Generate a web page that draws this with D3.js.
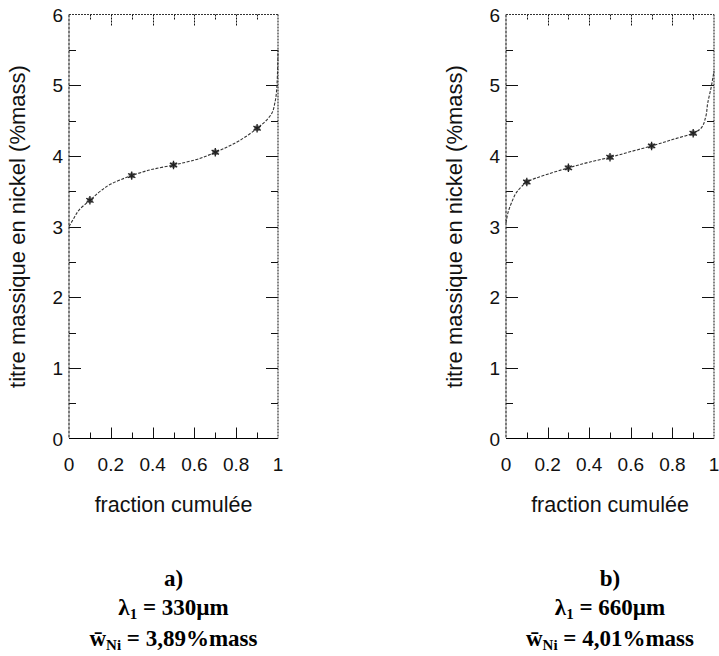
<!DOCTYPE html>
<html>
<head>
<meta charset="utf-8">
<script src="https://cdn.jsdelivr.net/npm/d3@7"></script>
<style>
  html, body { margin: 0; padding: 0; background: #fff; }
  svg { display: block; }
</style>
</head>
<body>
<svg id="chart" width="719" height="656"></svg>
<script>
// ---------- data ----------
const xTickValues = [0, 0.2, 0.4, 0.6, 0.8, 1];
const xTickLabels = ["0", "0.2", "0.4", "0.6", "0.8", "1"];
const xMinorTicks = [0.1, 0.3, 0.5, 0.7, 0.9];
const yTickValues = [0, 1, 2, 3, 4, 5, 6];
const yMinorTicks = [0.5, 1.5, 2.5, 3.5, 4.5, 5.5];

// panel a) lambda1 = 330 µm
const curveAFraction = [0, 0.02, 0.05, 0.1, 0.15, 0.2, 0.3, 0.4, 0.5, 0.6, 0.7, 0.8, 0.9, 0.95, 0.97, 0.985, 0.995, 1.0];
const curveAValue    = [3.0, 3.1, 3.24, 3.37, 3.5, 3.6, 3.72, 3.81, 3.87, 3.94, 4.05, 4.19, 4.39, 4.52, 4.6, 4.75, 5.0, 5.5];
const markerFraction = [0.1, 0.3, 0.5, 0.7, 0.9];
const markerAValue   = [3.37, 3.72, 3.87, 4.05, 4.39];

// panel b) lambda1 = 660 µm
const curveBFraction = [0, 0.01, 0.03, 0.05, 0.08, 0.1, 0.2, 0.3, 0.4, 0.5, 0.6, 0.7, 0.8, 0.9, 0.94, 0.96, 0.97, 0.985, 1.0];
const curveBValue    = [3.05, 3.2, 3.36, 3.48, 3.58, 3.63, 3.74, 3.83, 3.91, 3.98, 4.06, 4.14, 4.23, 4.32, 4.4, 4.55, 4.75, 4.95, 5.2];
const markerBValue   = [3.63, 3.83, 3.98, 4.14, 4.32];

const xTitle = "fraction cumulée";
const yTitle = "titre massique en nickel (%mass)";
const panelLetters = ["a)", "b)"];
const lambdaValues = ["330µm", "660µm"];
const meanValues = ["3,89%mass", "4,01%mass"];

// ---------- drawing ----------
const svg = d3.select("#chart");
const sansFont = "'Liberation Sans', Arial, Helvetica, sans-serif";
const serifFont = "'Liberation Serif', 'Times New Roman', serif";

const panels = [
  { left: 69, right: 278, fx: curveAFraction, fy: curveAValue, my: markerAValue, i: 0 },
  { left: 506, right: 714, fx: curveBFraction, fy: curveBValue, my: markerBValue, i: 1 }
];
const plotTop = 14.5, plotBottom = 438.5;

panels.forEach(p => {
  const g = svg.append("g");
  const x = d3.scaleLinear().domain([0, 1]).range([p.left, p.right]);
  const y = d3.scaleLinear().domain([0, 6]).range([plotBottom, plotTop]);

  // ticks (inward on all 4 sides)
  const tickG = g.append("g").attr("stroke", "#111").attr("stroke-width", 1);
  const xAll = xTickValues.map(v => ({ v, len: 11 })).concat(xMinorTicks.map(v => ({ v, len: 6 })));
  xAll.forEach(t => {
    if (t.v === 0 || t.v === 1) return;
    const px = Math.round(x(t.v)) + 0.5;
    tickG.append("line").attr("x1", px).attr("x2", px).attr("y1", plotBottom).attr("y2", plotBottom - t.len);
    tickG.append("line").attr("x1", px).attr("x2", px).attr("y1", plotTop).attr("y2", plotTop + t.len)
      .attr("stroke-dasharray", "2,1");
  });
  const yAll = yTickValues.map(v => ({ v, len: 12 })).concat(yMinorTicks.map(v => ({ v, len: 7 })));
  yAll.forEach(t => {
    if (t.v === 0 || t.v === 6) return;
    const py = Math.round(y(t.v)) + 0.5;
    tickG.append("line").attr("x1", p.left).attr("x2", p.left + t.len).attr("y1", py).attr("y2", py);
    tickG.append("line").attr("x1", p.right).attr("x2", p.right - t.len).attr("y1", py).attr("y2", py);
  });

  // frame
  g.append("line").attr("x1", p.left).attr("x2", p.right).attr("y1", plotBottom).attr("y2", plotBottom)
    .attr("stroke", "#000").attr("stroke-width", 1.2);
  g.append("line").attr("x1", p.left).attr("x2", p.left).attr("y1", plotTop).attr("y2", plotBottom)
    .attr("stroke", "#222").attr("stroke-width", 1.2).attr("stroke-dasharray", "3,1");
  g.append("line").attr("x1", p.left).attr("x2", p.right).attr("y1", plotTop).attr("y2", plotTop)
    .attr("stroke", "#333").attr("stroke-width", 1.2).attr("stroke-dasharray", "2,1");
  g.append("line").attr("x1", p.right).attr("x2", p.right).attr("y1", plotTop).attr("y2", plotBottom)
    .attr("stroke", "#333").attr("stroke-width", 1.2).attr("stroke-dasharray", "2,1");

  // tick labels
  g.append("g").selectAll("text").data(xTickValues).join("text")
    .attr("x", d => x(d)).attr("y", plotBottom + 32)
    .attr("text-anchor", "middle")
    .attr("font-family", sansFont).attr("font-size", 19).attr("fill", "#111")
    .text((d, i) => xTickLabels[i]);
  g.append("g").selectAll("text").data(yTickValues).join("text")
    .attr("x", p.left - 6).attr("y", d => y(d) + 7)
    .attr("text-anchor", "end")
    .attr("font-family", sansFont).attr("font-size", 19).attr("fill", "#111")
    .text(d => d);

  // axis titles
  g.append("text")
    .attr("x", (p.left + p.right) / 2).attr("y", 512)
    .attr("text-anchor", "middle")
    .attr("font-family", sansFont).attr("font-size", 21.5).attr("fill", "#111")
    .text(xTitle);
  g.append("text")
    .attr("transform", `translate(${p.left - 44},${(plotTop + plotBottom) / 2}) rotate(-90)`)
    .attr("text-anchor", "middle")
    .attr("font-family", sansFont).attr("font-size", 22).attr("fill", "#111")
    .text(yTitle);

  // curve
  const line = d3.line().x(d => x(d[0])).y(d => y(d[1])).curve(d3.curveMonotoneY);
  g.append("path")
    .datum(p.fx.map((v, i) => [v, p.fy[i]]))
    .attr("d", line)
    .attr("fill", "none").attr("stroke", "#333").attr("stroke-width", 1.1)
    .attr("stroke-dasharray", "3,1.5");

  // markers
  const mk = g.append("g").selectAll("g").data(markerFraction).join("g")
    .attr("transform", (d, i) => `translate(${x(d)},${y(p.my[i])})`);
  mk.append("circle").attr("r", 3).attr("fill", "#777");
  mk.append("path").attr("d", d3.symbol(d3.symbolAsterisk, 50)())
    .attr("fill", "none").attr("stroke", "#222").attr("stroke-width", 1.3);

  // captions
  const cx = (p.left + p.right) / 2;
  g.append("text").attr("x", cx).attr("y", 586).attr("text-anchor", "middle")
    .attr("font-family", serifFont).attr("font-weight", "bold").attr("font-size", 23).attr("fill", "#000")
    .text(panelLetters[p.i]);
  const lt = g.append("text").attr("x", cx).attr("y", 615).attr("text-anchor", "middle")
    .attr("font-family", serifFont).attr("font-weight", "bold").attr("font-size", 23).attr("fill", "#000");
  lt.append("tspan").text("λ");
  lt.append("tspan").attr("font-size", 15).attr("dy", 4).text("1");
  lt.append("tspan").attr("dy", -4).text(" = " + lambdaValues[p.i]);
  const wt = g.append("text").attr("x", cx).attr("y", 646).attr("text-anchor", "middle")
    .attr("font-family", serifFont).attr("font-weight", "bold").attr("font-size", 23).attr("fill", "#000");
  wt.append("tspan").text("w\u0304");
  wt.append("tspan").attr("font-size", 15).attr("dy", 4).text("Ni");
  wt.append("tspan").attr("dy", -4).text(" = " + meanValues[p.i]);
});
</script>
</body>
</html>
